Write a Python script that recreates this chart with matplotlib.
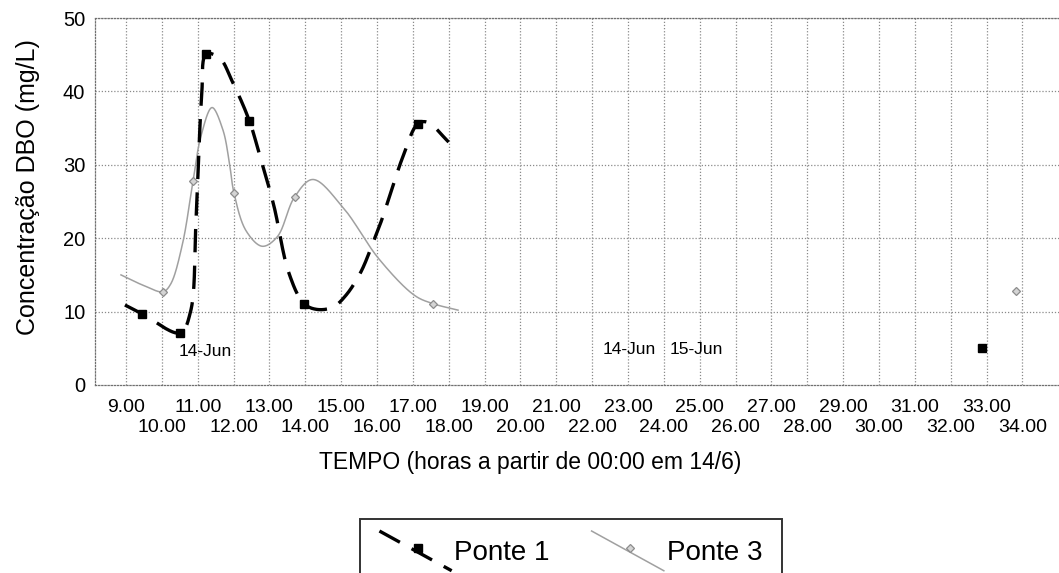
import numpy as np
import matplotlib
matplotlib.use("Agg")
import matplotlib.pyplot as plt
from matplotlib.lines import Line2D
from matplotlib.legend_handler import HandlerBase

plt.rcParams['font.family'] = ['Liberation Sans', 'DejaVu Sans']

# ---- data (hours from 00:00 on 14/6, DBO mg/L) ----
# NaN = gap in the series (the later samples are not joined to the curve)
p1_time = [8.97, 9.45, 10.51, 10.80, 10.95, 11.11, 11.24, 11.62, 11.95,
           12.44, 12.74, 13.12, 13.54, 13.96, 14.32, 14.77, 15.13, 15.54, 15.86,
           16.14, 16.41, 16.73, 17.14, 17.41, 18.00, np.nan, 32.87]
p1_dbo = [10.9, 9.7, 7.1, 10.0, 22.0, 39.3, 45.1, 44.5, 41.5,
          36.0, 31.1, 24.5, 15.3, 11.1, 10.3, 10.6, 12.2, 15.3, 19.0,
          22.6, 26.6, 31.2, 35.6, 35.8, 33.1, np.nan, 5.1]
p1_marked_times = [9.45, 10.51, 11.24, 12.44, 13.96, 17.14, 32.87]

p3_time = [8.86, 9.52, 10.03, 10.24, 10.57, 10.87, 11.09, 11.40, 11.70, 11.88, 12.01,
           12.35, 12.80, 13.22, 13.70, 14.21, 15.05, 16.05,
           17.05, 17.55, 18.26, np.nan, 33.83]
p3_dbo = [15.0, 13.5, 12.7, 13.7, 19.1, 27.8, 33.9, 37.8, 34.8, 30.4, 26.2,
          21.0, 18.9, 20.2, 25.6, 28.0, 24.2, 17.2,
          12.2, 11.1, 10.2, np.nan, 12.85]
p3_marked_times = [10.03, 10.87, 12.01, 13.70, 17.55, 33.83]

tick_hours = list(range(9, 35))
y_ticks = [0, 10, 20, 30, 40, 50]
date_labels = [("14-Jun", 11.2, 4.5), ("14-Jun", 23.03, 4.8), ("15-Jun", 24.9, 4.8)]
series_names = ["Ponte 1", "Ponte 3"]

PX_X, PX_Y = 35.85, 7.34   # px per hour / per mg/L, used only to shape the smoothing


def smooth_segments(xs, ys, n=30, alpha=0.5):
    """Centripetal Catmull-Rom line through each NaN-free run (Excel 'smoothed line')."""
    xs = np.asarray(xs, float)
    ys = np.asarray(ys, float)
    idx = np.where(~np.isnan(xs))[0]
    runs = np.split(idx, np.where(np.diff(idx) != 1)[0] + 1)
    out = []
    for r in runs:
        if len(r) < 2:
            continue
        P = np.column_stack([xs[r] * PX_X, ys[r] * PX_Y])
        E = np.vstack([2 * P[0] - P[1], P, 2 * P[-1] - P[-2]])
        pts = []
        for i in range(1, len(E) - 2):
            p0, p1, p2, p3 = E[i - 1], E[i], E[i + 1], E[i + 2]
            t0 = 0.0
            t1 = t0 + max(np.linalg.norm(p1 - p0), 1e-6) ** alpha
            t2 = t1 + max(np.linalg.norm(p2 - p1), 1e-6) ** alpha
            t3 = t2 + max(np.linalg.norm(p3 - p2), 1e-6) ** alpha
            t = np.linspace(t1, t2, n)[:, None]
            A1 = (t1 - t) / (t1 - t0) * p0 + (t - t0) / (t1 - t0) * p1
            A2 = (t2 - t) / (t2 - t1) * p1 + (t - t1) / (t2 - t1) * p2
            A3 = (t3 - t) / (t3 - t2) * p2 + (t - t2) / (t3 - t2) * p3
            B1 = (t2 - t) / (t2 - t0) * A1 + (t - t0) / (t2 - t0) * A2
            B2 = (t3 - t) / (t3 - t1) * A2 + (t - t1) / (t3 - t1) * A3
            C = (t2 - t) / (t2 - t1) * B1 + (t - t1) / (t2 - t1) * B2
            pts.append(C if not pts else C[1:])
        seg = np.vstack(pts)
        out.append(np.column_stack([seg[:, 0] / PX_X, seg[:, 1] / PX_Y]))
    return out


class DiagHandler(HandlerBase):
    def __init__(self, slope=0.55, **kw):
        super().__init__(**kw)
        self.slope = slope

    def create_artists(self, legend, orig, xd, yd, w, h, fs, trans):
        x0, x1 = -xd, -xd + w
        yc = -yd + h / 2
        dy = self.slope * w / 2
        line = Line2D([x0, x1], [yc + dy, yc - dy])
        line.update_from(orig)
        line.set_marker('None')
        mk = Line2D([x0 + 0.53 * w], [yc + 0.1 * h])
        mk.update_from(orig)
        mk.set_linestyle('None')
        line.set_transform(trans)
        mk.set_transform(trans)
        return [line, mk]


fig = plt.figure(figsize=(10.59, 5.73), dpi=100)
ax = fig.add_axes([95 / 1059, 1 - 385 / 573, 1 - 95 / 1059 + 0.002, (385 - 18) / 573])

grid_kw = dict(color='#8a8a8a', linestyle=(0, (1, 1.5)), linewidth=0.9)
for h in tick_hours:
    ax.axvline(h, **grid_kw, zorder=0)
for yv in y_ticks[1:]:
    ax.axhline(yv, **grid_kw, zorder=0)

p1_style = dict(color='black', linewidth=2.4, dashes=(7, 4))
p3_style = dict(color='#a0a0a0', linewidth=1.1)
p1_marker = dict(marker='s', ms=6, color='black', mec='black')
p3_marker = dict(marker='D', ms=4.5, mfc='#d4d4d4', mec='#8c8c8c', mew=0.9)

for seg in smooth_segments(p1_time, p1_dbo):
    ax.plot(seg[:, 0], seg[:, 1], zorder=4, **p1_style)
for seg in smooth_segments(p3_time, p3_dbo):
    ax.plot(seg[:, 0], seg[:, 1], zorder=3, **p3_style)

t1 = np.array(p1_time)
m1 = np.isin(t1, p1_marked_times)
ax.plot(t1[m1], np.array(p1_dbo)[m1], ls='none', zorder=5, **p1_marker)
t3 = np.array(p3_time)
m3 = np.isin(t3, p3_marked_times)
ax.plot(t3[m3], np.array(p3_dbo)[m3], ls='none', zorder=5, **p3_marker)

for txt, xv, yv in date_labels:
    ax.text(xv, yv, txt, ha='center', va='center', fontsize=12.5, zorder=6)

ax.set_xlim(9 - 31 / 35.85, 9 + (1061 - 126) / 35.85)
ax.set_ylim(0, 50)
odd = [h for h in tick_hours if h % 2 == 1]
even = [h for h in tick_hours if h % 2 == 0]
ax.set_xticks(odd)
ax.set_xticklabels([f"{h:.2f}" for h in odd], fontsize=14)
ax.set_xticks(even, minor=True)
ax.set_xticklabels([f"{h:.2f}" for h in even], minor=True, fontsize=14)
ax.set_yticks(y_ticks)
ax.set_yticklabels([str(v) for v in y_ticks], fontsize=14.5)
ax.tick_params(axis='both', which='both', length=0)
ax.tick_params(axis='x', which='major', pad=10)
ax.tick_params(axis='x', which='minor', pad=24.5)
ax.tick_params(axis='y', pad=7)

for s in ['left', 'top', 'bottom']:
    ax.spines[s].set_linestyle((0, (1, 1.5)))
    ax.spines[s].set_color('#707070')
    ax.spines[s].set_linewidth(0.9)
ax.spines['right'].set_visible(False)

ax.set_ylabel("Concentração DBO (mg/L)", fontsize=18)
ax.yaxis.set_label_coords((40 - 95) / 964, (385 - 187) / 367)
fig.text(530 / 1059, 1 - 462 / 573, "TEMPO (horas a partir de 00:00 em 14/6)",
         ha='center', va='center', fontsize=16.5)

h1 = Line2D([], [], **p1_style, **{k: v for k, v in p1_marker.items() if k != 'color'})
h3 = Line2D([], [], **p3_style, **p3_marker)
leg = fig.legend([h1, h3], series_names, ncol=2, loc='upper left',
                 bbox_to_anchor=(360 / 1059, 1 - 519 / 573),
                 fontsize=20, frameon=True, fancybox=False, edgecolor='black',
                 handlelength=2.6, handleheight=1.0, handletextpad=0.1, columnspacing=1.5,
                 borderpad=0.7, borderaxespad=0.0,
                 handler_map={Line2D: DiagHandler()})
leg.get_frame().set_linewidth(1.4)

fig.savefig("out.png", dpi=100)
